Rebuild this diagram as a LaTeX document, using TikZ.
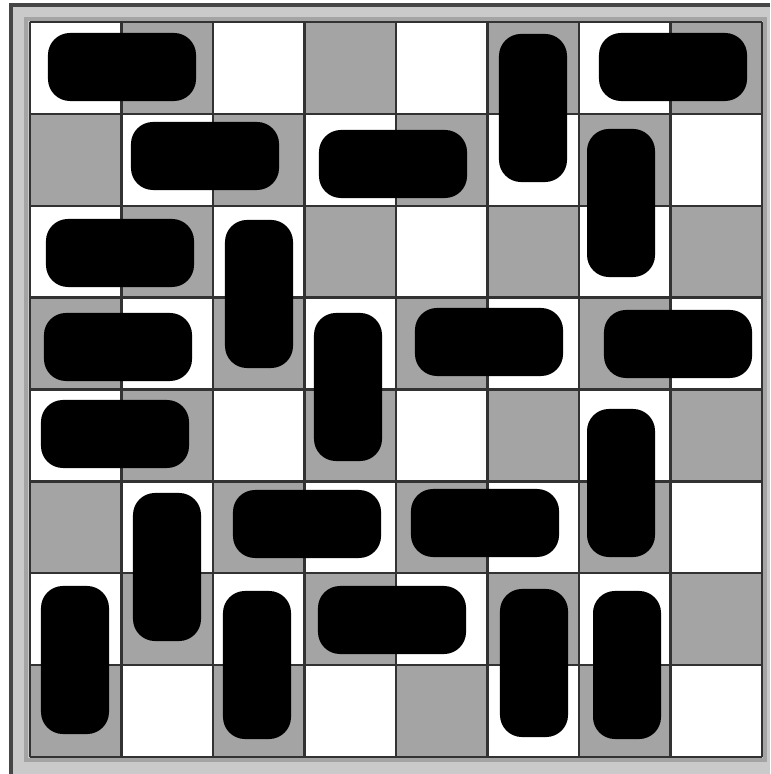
\documentclass[tikz,border=0pt]{standalone}
\usepackage{xcolor}
\usetikzlibrary{positioning}
\definecolor{cellgray}{RGB}{164,164,164}
\definecolor{framegray}{RGB}{202,202,202}
\definecolor{framedark}{RGB}{70,70,70}
\definecolor{gridline}{RGB}{50,50,50}
\tikzset{
    domino/.style={
        rectangle,
        rounded corners=0.22cm,
        fill=black,
        inner sep=0pt
    },
    hdomino/.style={domino, minimum width=1.48cm, minimum height=0.68cm},
    vdomino/.style={domino, minimum width=0.68cm, minimum height=1.48cm},
    gridrule/.style={draw=gridline, line width=0.7pt},
    frameedge/.style={draw=framedark, line width=0.9pt}
}

\begin{document}
\begin{tikzpicture}[x=0.01cm, y=-0.01cm]

\useasboundingbox (0,0) rectangle (770,774);
\fill[white] (0,0) rectangle (770,774);

% frame
\fill[framegray] (10,4) rectangle (770,774);
\draw[cellgray, line width=1pt] (26,19) rectangle (765,760);
\draw[frameedge] (11,774) -- (11,5) -- (770,5);
\fill[white] (30,22) rectangle (762,757);

% checkerboard
\foreach \r in {0,...,7} {
    \foreach \c in {0,...,7} {
        \pgfmathtruncatemacro{\odd}{mod(\r+\c,2)}
        \ifnum\odd=1
            \fill[cellgray] ({30+91.5*\c},{22+91.875*\r}) rectangle ++(91.5,91.875);
        \fi
    }
}
\foreach \i in {0,...,8} {
    \draw[gridrule] ({30+91.5*\i},22) -- ({30+91.5*\i},757);
    \draw[gridrule] (30,{22+91.875*\i}) -- (762,{22+91.875*\i});
}

% horizontal dominoes
\foreach \x/\y [count=\n] in {122/67, 673/67, 205/156, 393/164, 120/253,
    118/347, 489/342, 678/344, 115/434, 307/524, 485/523, 392/620}
    \node[hdomino] (h\n) at (\x,\y) {};

% vertical dominoes
\foreach \x/\y [count=\n] in {533/108, 621/203, 259/294, 348/387, 621/483,
    167/567, 75/660, 257/665, 534/663, 627/665}
    \node[vdomino] (v\n) at (\x,\y) {};

\end{tikzpicture}
\end{document}
